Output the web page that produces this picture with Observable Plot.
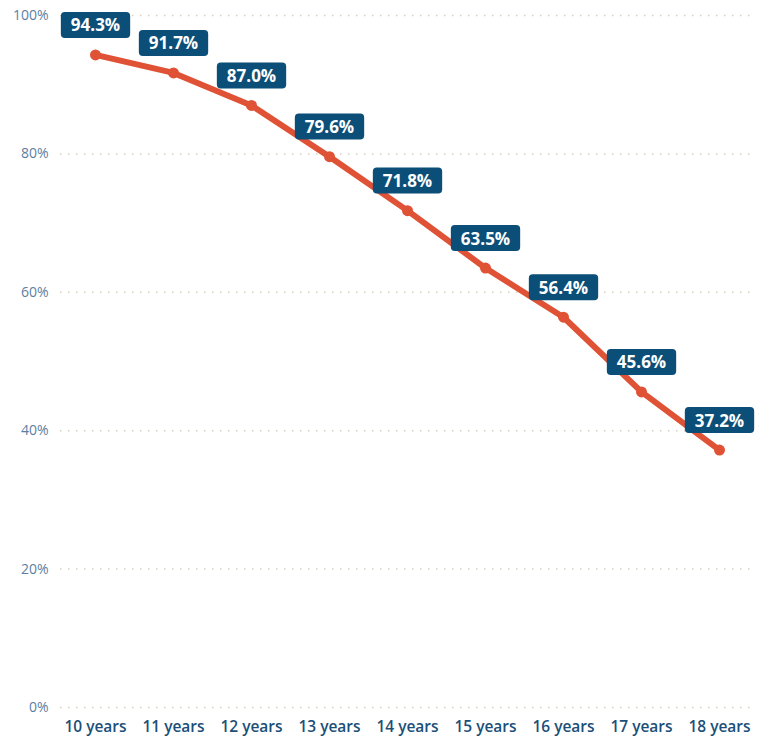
<!DOCTYPE html>
<html>
<head>
<meta charset="utf-8">
<script src="https://cdn.jsdelivr.net/npm/d3@7"></script>
<script src="https://cdn.jsdelivr.net/npm/@observablehq/plot@0.6"></script>
<style>
  html, body { margin: 0; padding: 0; background: #ffffff; }
  #chart { width: 764px; height: 738px; }
</style>
</head>
<body>
<div id="chart"></div>
<script>
const ages = ["10 years", "11 years", "12 years", "13 years", "14 years", "15 years", "16 years", "17 years", "18 years"];
const shares = [94.3, 91.7, 87.0, 79.6, 71.8, 63.5, 56.4, 45.6, 37.2];
const yTicks = [0, 20, 40, 60, 80, 100];

const data = ages.map((a, i) => ({age: a, value: shares[i]}));

const lineColor = "#e05235";
const boxColor = "#0b4f78";
const font = "'Open Sans', 'Noto Sans', sans-serif";

const svg = Plot.plot({
  width: 764,
  height: 738,
  marginTop: 15,
  marginBottom: 31,
  marginLeft: 63,
  marginRight: 13,
  style: {fontFamily: font, background: "#ffffff", overflow: "visible"},
  x: {type: "point", domain: ages, padding: 0.4, label: null},
  y: {domain: [0, 100], label: null},
  marks: [
    Plot.ruleY(yTicks, {stroke: "#d6d1c4", strokeWidth: 1.5, strokeDasharray: "1.5,6.5", insetLeft: -3}),
    Plot.axisY(yTicks, {tickSize: 0, tickPadding: 15, tickFormat: d => d + "%", fill: "#5b7fa3", fontSize: 14, label: null}),
    Plot.axisX({tickSize: 0, tickPadding: 13, fill: "#1b4f78", fontSize: 15.5, fontWeight: 600, label: null}),
    Plot.line(data, {x: "age", y: "value", stroke: lineColor, strokeWidth: 6, strokeLinejoin: "round", strokeLinecap: "round"}),
    Plot.dot(data, {x: "age", y: "value", r: 5.5, fill: lineColor, stroke: null}),
    Plot.text(data, {x: "age", y: "value", dy: -29, text: d => d.value.toFixed(1) + "%", fill: "#ffffff", fontSize: 17, fontWeight: 700})
  ]
});

document.getElementById("chart").appendChild(svg);

// Draw rounded boxes behind value labels, sized from the rendered text
const groups = Array.from(svg.querySelectorAll('g[aria-label="text"]'));
groups.forEach(group => {
  const texts = Array.from(group.querySelectorAll("text"));
  texts.forEach(t => {
    const b = t.getBBox();
    const padX = 10, h = 26;
    const cy = b.y + b.height / 2;
    const rect = document.createElementNS("http://www.w3.org/2000/svg", "rect");
    rect.setAttribute("x", b.x - padX);
    rect.setAttribute("y", cy - h / 2);
    rect.setAttribute("width", b.width + 2 * padX);
    rect.setAttribute("height", h);
    rect.setAttribute("rx", 4);
    rect.setAttribute("fill", boxColor);
    const tr = t.getAttribute("transform");
    if (tr) rect.setAttribute("transform", tr);
    group.insertBefore(rect, t);
  });
});
</script>
</body>
</html>
